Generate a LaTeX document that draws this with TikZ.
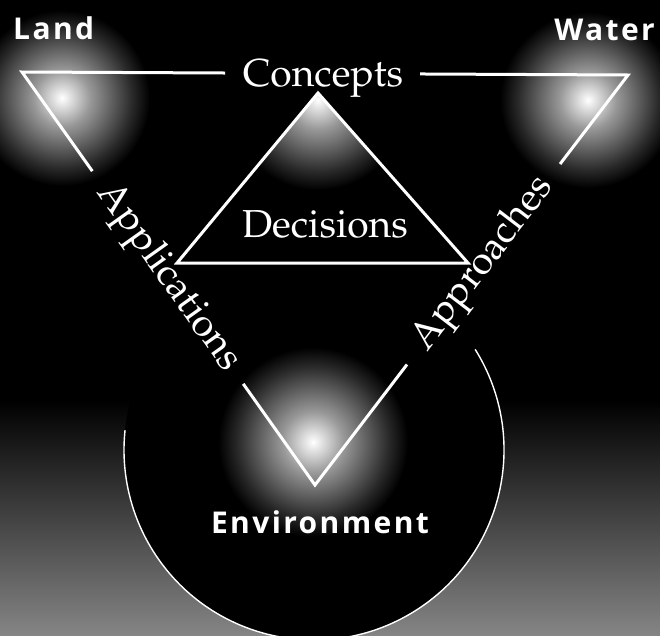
\documentclass[tikz,border=0pt]{standalone}
\usepackage[T1]{fontenc}
\usepackage{fontspec}
\newfontfamily\labfont{Open Sans}[LetterSpace=8]
\newcommand\palfont{\fontencoding{T1}\fontfamily{ppl}\selectfont}
\usetikzlibrary{calc}
\pgfdeclareradialshading{glow}{\pgfpoint{0bp}{0bp}}{color(0bp)=(white); color(3bp)=(white!85!black); color(8bp)=(white!60!black); color(14bp)=(white!38!black); color(20bp)=(white!16!black); color(25bp)=(black); color(50bp)=(black)}
\tikzset{
  edge/.style={white, line width=3, line join=miter},
  ser/.style={white, font=\palfont\fontsize{39}{42}\selectfont, inner sep=0},
  lab/.style={white, font=\labfont\bfseries\fontsize{30}{34}\selectfont, inner sep=0},
}
\begin{document}
\begin{tikzpicture}[x=1pt,y=-1pt]
\fill[black] (0,0) rectangle (660,635);
\useasboundingbox (0,0) rectangle (660,635);
% lower glow outside the circle
\shade[top color=black, middle color=white!22!black, bottom color=white!52!black] (0,400) rectangle (660,635);
\coordinate (cc) at (314,450);
\fill[black] (cc) circle (190);
% glows
\shade[shading=glow] (62,98) circle (88);
\shade[shading=glow] (588,100) circle (88);
\shade[shading=glow] (313,442) circle (95);
% inner triangle corners
\coordinate (ia) at (318,93);
\coordinate (il) at (177,263);
\coordinate (ir) at (468,263);
\begin{scope}
  \clip (ia) -- (il) -- (ir) -- cycle;
  \shade[shading=glow] (318,100) circle (90);
\end{scope}
% circle outline
\draw[white, line width=1.4] (cc) ++(-32:190) arc[start angle=-32, end angle=186, radius=190];
% outer triangle
\coordinate (tl) at (22,72);
\coordinate (tr) at (628,75);
\coordinate (bt) at (315,485);
\coordinate (c1) at ($(tl)!0.335!(tr)$);
\coordinate (c2) at ($(tl)!0.657!(tr)$);
\coordinate (a1) at ($(tl)!0.24!(bt)$);
\coordinate (a2) at ($(tl)!0.755!(bt)$);
\coordinate (p1) at ($(tr)!0.217!(bt)$);
\coordinate (p2) at ($(tr)!0.706!(bt)$);
\draw[edge] (c1) -- (tl) -- (a1);
\draw[edge] (c2) -- (tr) -- (p1);
\draw[edge] (a2) -- (bt) -- (p2);
\draw[edge] (ia) -- (il) -- (ir) -- cycle;
% texts
\node[ser, anchor=base] (concepts) at (323,86) {Concepts};
\node[ser, anchor=base] (decisions) at (325,237) {Decisions};
\node[ser, rotate=-54.6] (applications) at ($(a1)!0.5!(a2)$) {Applications};
\node[ser, rotate=52.6] (approaches) at ($(p1)!0.5!(p2)$) {Approaches};
\node[lab, anchor=base west] (land) at (13,39) {Land};
\node[lab, anchor=base east] (water) at (655,40) {Water};
\node[lab, anchor=base] (env) at (320,533) {Environment};
\end{tikzpicture}
\end{document}
